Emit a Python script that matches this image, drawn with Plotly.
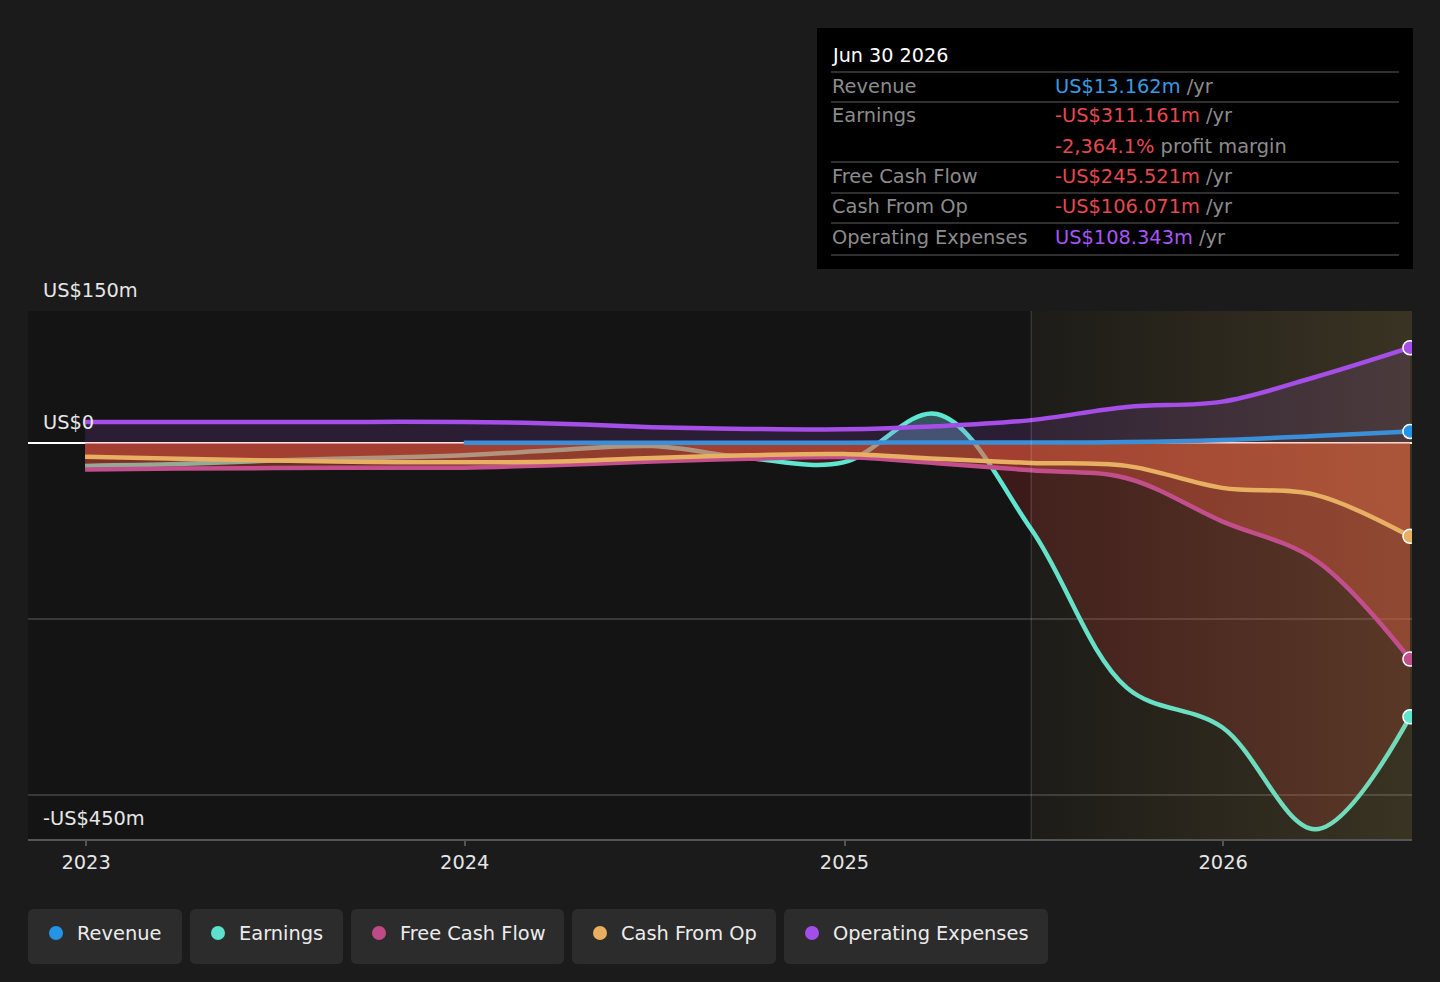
import plotly.graph_objects as go

# quarterly points, past + forecast (US$ m)
dates = ['2022-12-31', '2023-03-31', '2023-06-30', '2023-09-30', '2023-12-31',
         '2024-03-31', '2024-06-30', '2024-09-30', '2024-12-31', '2025-03-31',
         '2025-06-30', '2025-09-30', '2025-12-31', '2026-03-31', '2026-06-30']

revenue = [None, None, None, None, 0.3, 0.3, 0.3, 0.4, 0.4, 0.5, 0.6, 1.0, 3.4, 8.0, 13.162]
earnings = [-26, -24, -20, -17, -14, -8, -3.5, -17, -22, 33, -98, -278, -323, -439, -311.161]
fcf = [-30, -29, -28.5, -28, -28, -25, -21, -18, -16, -23, -31, -40, -89, -133, -245.521]
cfo = [-15.5, -18, -20, -21.5, -22, -21, -17, -14, -12.5, -18, -22.7, -26, -51, -59, -106.071]
opex = [24, 24, 24, 24, 24, 22, 18, 16, 15.5, 19, 26, 41, 47, 75, 108.343]

forecast_start = '2025-06-30'
x_range = ['2022-11-06', '2026-07-02']
y_range = [-450, 150]
y_labels = {150: 'US$150m', 0: 'US$0', -450: '-US$450m'}

C_REV = '#3b8fd9'
C_EARN = '#5ee6d0'
C_FCF = '#c24f8c'
C_CFO = '#e8b062'
C_OPEX = '#a64ee8'

FONT = 'DejaVu Sans'
FS = 19.4
W, H = 1440, 982
ML, MR, MT, MB = 28, 28, 311, 143
PW, PH = W - ML - MR, H - MT - MB
LW = 4.5


def px(x):
    return (x - ML) / PW


def py(y):
    return (H - MB - y) / PH


fig = go.Figure()

# earnings: red below zero, teal above
fig.add_trace(go.Scatter(
    x=dates, y=earnings, mode='lines', line=dict(color=C_EARN, width=LW, shape='spline'),
    fill='tozeroy',
    fillgradient=dict(type='vertical', start=-1, stop=1,
                      colorscale=[[0, 'rgba(220,50,50,0.2)'], [0.5, 'rgba(220,50,50,0.2)'],
                                  [0.5, 'rgba(90,160,180,0.45)'], [1, 'rgba(90,160,180,0.45)']]),
    hoverinfo='skip'))

# fills
fig.add_trace(go.Scatter(x=dates, y=fcf, mode='lines', line=dict(width=0, shape='spline'),
                         fill='tozeroy', fillcolor='rgba(230,80,60,0.4)', hoverinfo='skip'))
fig.add_trace(go.Scatter(x=dates, y=cfo, mode='lines', line=dict(width=0, shape='spline'),
                         fill='tozeroy', fillcolor='rgba(240,100,70,0.31)', hoverinfo='skip'))
fig.add_trace(go.Scatter(x=dates, y=opex, mode='lines', line=dict(width=0, shape='spline'),
                         fill='tozeroy', fillcolor='rgba(166,80,232,0.15)', hoverinfo='skip'))

# forecast tint
fig.add_trace(go.Scatter(
    x=[forecast_start, x_range[1], x_range[1], forecast_start],
    y=[y_range[1], y_range[1], y_range[0], y_range[0]],
    mode='none', fill='toself',
    fillgradient=dict(type='horizontal',
                      colorscale=[[0, 'rgba(200,170,90,0.05)'], [1, 'rgba(200,170,90,0.21)']]),
    hoverinfo='skip'))

# lines
for ys, col in [(fcf, C_FCF), (cfo, C_CFO), (opex, C_OPEX), (revenue, C_REV)]:
    fig.add_trace(go.Scatter(x=dates, y=ys, mode='lines',
                             line=dict(color=col, width=LW, shape='spline'), hoverinfo='skip'))

# end markers
for ys, col in [(opex, C_OPEX), (revenue, '#2394e6'), (cfo, C_CFO), (fcf, C_FCF), (earnings, C_EARN)]:
    fig.add_trace(go.Scatter(x=[dates[-1]], y=[ys[-1]], mode='markers',
                             marker=dict(size=14, color=col, line=dict(color='white', width=1.5)),
                             hoverinfo='skip'))

shapes = []
annotations = []

# forecast divider
shapes.append(dict(type='line', xref='x', yref='paper', x0=forecast_start, x1=forecast_start,
                   y0=0, y1=1, line=dict(color='rgba(255,255,255,0.13)', width=1.5)))

# y labels
for v, t in y_labels.items():
    annotations.append(dict(xref='paper', yref='y', x=px(41), y=v, yshift=7, text=t,
                            showarrow=False, xanchor='left', yanchor='bottom',
                            font=dict(family=FONT, size=FS, color='#e6e6e6')))

# tooltip box
shapes.append(dict(type='rect', xref='paper', yref='paper', x0=px(817), x1=px(1413),
                   y0=py(269), y1=py(28), fillcolor='#000000', line=dict(width=0)))
for yy in [72, 102, 162, 193, 223, 255]:
    shapes.append(dict(type='line', xref='paper', yref='paper', x0=px(831), x1=px(1399),
                       y0=py(yy), y1=py(yy), line=dict(color='#3f3f3f', width=1.5)))

RED = '#e5484d'
GREY = '#8c8c8c'
rows = [
    (86, 'Revenue', '<span style="color:#3a9ae0">US$13.162m</span> /yr'),
    (116, 'Earnings', f'<span style="color:{RED}">-US$311.161m</span> /yr'),
    (146, '', f'<span style="color:{RED}">-2,364.1%</span> profit margin'),
    (176, 'Free Cash Flow', f'<span style="color:{RED}">-US$245.521m</span> /yr'),
    (207, 'Cash From Op', f'<span style="color:{RED}">-US$106.071m</span> /yr'),
    (237, 'Operating Expenses', '<span style="color:#a855f7">US$108.343m</span> /yr'),
]
annotations.append(dict(xref='paper', yref='paper', x=px(830), y=py(55), text='Jun 30 2026',
                        showarrow=False, xanchor='left', yanchor='middle',
                        font=dict(family=FONT, size=19.2, color='#ffffff')))
for yy, lab, val in rows:
    if lab:
        annotations.append(dict(xref='paper', yref='paper', x=px(830), y=py(yy), text=lab,
                                showarrow=False, xanchor='left', yanchor='middle',
                                font=dict(family=FONT, size=FS, color=GREY)))
    annotations.append(dict(xref='paper', yref='paper', x=px(1053), y=py(yy), text=val,
                            showarrow=False, xanchor='left', yanchor='middle',
                            font=dict(family=FONT, size=FS, color=GREY)))


# legend chips
def rounded(x0, y0, x1, y1, r=6):
    pts = [
        f'M {px(x0 + r)},{py(y0)}', f'L {px(x1 - r)},{py(y0)}',
        f'Q {px(x1)},{py(y0)} {px(x1)},{py(y0 + r)}', f'L {px(x1)},{py(y1 - r)}',
        f'Q {px(x1)},{py(y1)} {px(x1 - r)},{py(y1)}', f'L {px(x0 + r)},{py(y1)}',
        f'Q {px(x0)},{py(y1)} {px(x0)},{py(y1 - r)}', f'L {px(x0)},{py(y0 + r)}',
        f'Q {px(x0)},{py(y0)} {px(x0 + r)},{py(y0)}', 'Z']
    return ' '.join(pts)


legend_items = [('Revenue', '#2394e6', 28, 182), ('Earnings', '#5ee0cf', 190, 343),
                ('Free Cash Flow', '#c04a88', 351, 564), ('Cash From Op', '#e8b05e', 572, 776),
                ('Operating Expenses', '#a24ee8', 784, 1048)]
for name, col, bx0, bx1 in legend_items:
    shapes.append(dict(type='path', xref='paper', yref='paper', path=rounded(bx0, 909, bx1, 964),
                       fillcolor='#2c2c2c', line=dict(width=0)))
    cx = bx0 + 28
    shapes.append(dict(type='circle', xref='paper', yref='paper', x0=px(cx - 7), x1=px(cx + 7),
                       y0=py(940), y1=py(926), fillcolor=col, line=dict(width=0)))
    annotations.append(dict(xref='paper', yref='paper', x=px(bx0 + 47), y=py(933), text=name,
                            showarrow=False, xanchor='left', yanchor='middle',
                            font=dict(family=FONT, size=FS, color='#ececec')))

fig.update_layout(
    width=W, height=H,
    margin=dict(l=ML, r=MR, t=MT, b=MB),
    paper_bgcolor='#1b1b1b', plot_bgcolor='#141414',
    showlegend=False,
    font=dict(family=FONT, color='#e0e0e0'),
    shapes=shapes, annotations=annotations,
    xaxis=dict(type='date', range=x_range, showgrid=False, zeroline=False,
               tickvals=['2023-01-01', '2024-01-01', '2025-01-01', '2026-01-01'],
               ticktext=['2023', '2024', '2025', '2026'],
               ticks='outside', ticklen=5, tickcolor='#555555', tickwidth=1.5,
               showline=True, linecolor='#555555', linewidth=1.5,
               tickfont=dict(family=FONT, size=FS, color='#e6e6e6')),
    yaxis=dict(range=y_range, tickvals=[150, -200, -400], showticklabels=False,
               gridcolor='#383838', gridwidth=1.5,
               zeroline=True, zerolinecolor='#ffffff', zerolinewidth=1.5),
)

fig.write_html('out.html', config={'displayModeBar': False},
               post_script="document.body.style.margin='0';document.body.style.background='#1b1b1b';")
